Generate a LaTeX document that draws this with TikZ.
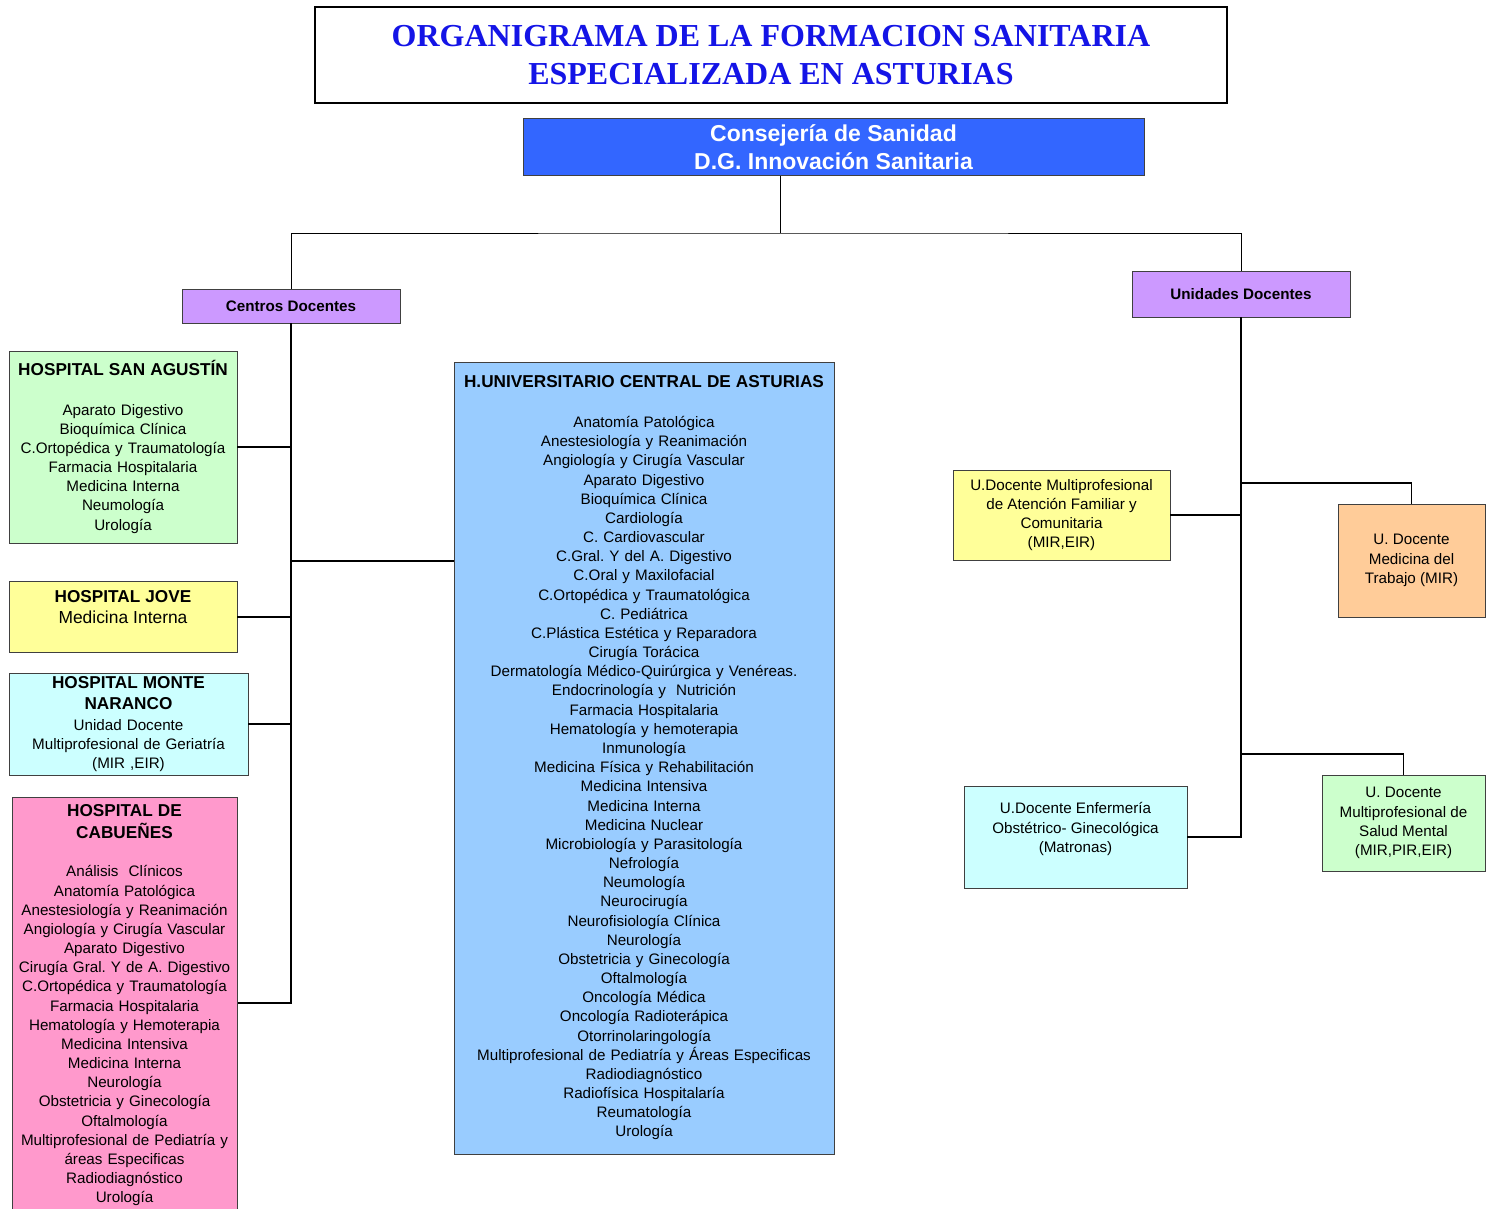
\documentclass[tikz,border=0pt]{standalone}
\usepackage{fontspec}
\setmainfont{Liberation Sans}
\newfontfamily\titlefont{Liberation Serif}
\frenchspacing
\definecolor{titleblue}{HTML}{1414E6}
\definecolor{consblue}{HTML}{3366FF}
\definecolor{violetbox}{HTML}{CC99FF}
\definecolor{greenbox}{HTML}{CCFFCC}
\definecolor{yellowbox}{HTML}{FFFF99}
\definecolor{cyanbox}{HTML}{CCFFFF}
\definecolor{pinkbox}{HTML}{FF99CC}
\definecolor{bluebox}{HTML}{99CCFF}
\definecolor{orangebox}{HTML}{FFCC99}
\newcommand\myBody{\fontsize{15.2}{19.17}\selectfont}
\newcommand\myHead{\bfseries\fontsize{17.2}{21.5}\selectfont}
\begin{document}
\frenchspacing
\begin{tikzpicture}[x=1pt,y=-1pt,
  box/.style={draw=black!75, line width=0.8pt, inner sep=0pt, align=center, font=\myBody},
  conn/.style={line width=1.3pt, black},
  thinconn/.style={line width=0.9pt, black}]
\useasboundingbox (0,0) rectangle (1492,1209);
\begin{scope}
\clip (0,0) rectangle (1492,1209);

% title
\node[draw=black, line width=2pt, minimum width=912, minimum height=96, inner sep=0pt, align=center,
      font=\titlefont\bfseries\fontsize{32}{38}\selectfont, text=titleblue] (title) at (771,55)
  {ORGANIGRAMA DE LA FORMACION SANITARIA\\ESPECIALIZADA EN ASTURIAS};

% consejeria
\node[box, fill=consblue, minimum width=621, minimum height=57, text=white,
      font=\bfseries\fontsize{23}{28}\selectfont] (cons) at (833.5,147)
  {Consejería de Sanidad\\D.G. Innovación Sanitaria};

% second level
\node[box, fill=violetbox, minimum width=218, minimum height=34, font=\bfseries\myBody] (centros) at (291,306) {Centros Docentes};
\node[box, fill=violetbox, minimum width=218, minimum height=46, font=\bfseries\myBody] (unidades) at (1241,294) {Unidades Docentes};

% hospitals
\node[box, fill=greenbox, minimum width=228, minimum height=192, text width=224] (sanag) at (123,447)
  {{\myHead HOSPITAL SAN AGUSTÍN\par}\vspace{20pt}
   Aparato Digestivo\\Bioquímica Clínica\\C.Ortopédica y Traumatología\\Farmacia Hospitalaria\\Medicina Interna\\Neumología\\Urología};

\node[box, fill=yellowbox, minimum width=228, minimum height=71, text width=224] (jove) at (123,616.5)
  {{\myHead HOSPITAL JOVE\par}
   {\fontsize{17.4}{21.5}\selectfont Medicina Interna\par}\mbox{}};

\node[box, fill=cyanbox, minimum width=239, minimum height=102, text width=235] (monte) at (128.5,724)
  {{\myHead HOSPITAL MONTE\\NARANCO\par}\vspace{1.5pt}
   Unidad Docente\\Multiprofesional de Geriatría\\(MIR ,EIR)\par\vspace{-5pt}};

\node[box, fill=pinkbox, minimum width=225, minimum height=440, anchor=north west] (cab) at (12,797) {};
\node[inner sep=0pt, align=center, text width=223, font=\myBody, anchor=north] (cabt) at (124.5,804.5)
  {{\myHead HOSPITAL DE\\CABUEÑES\par}\vspace{19.5pt}
   Análisis\ \ Clínicos\\Anatomía Patológica\\Anestesiología y Reanimación\\Angiología y Cirugía Vascular\\Aparato Digestivo\\Cirugía Gral. Y de A. Digestivo\\C.Ortopédica y Traumatología\\Farmacia Hospitalaria\\Hematología y Hemoterapia\\Medicina Intensiva\\Medicina Interna\\Neurología\\Obstetricia y Ginecología\\Oftalmología\\Multiprofesional de Pediatría y\\áreas Especificas\\Radiodiagnóstico\\Urología};

\node[box, fill=bluebox, minimum width=380, minimum height=792, text width=376] (huca) at (644,758)
  {{\myHead H.UNIVERSITARIO CENTRAL DE ASTURIAS\par}\vspace{20.5pt}
   Anatomía Patológica\\Anestesiología y Reanimación\\Angiología y Cirugía Vascular\\Aparato Digestivo\\Bioquímica Clínica\\Cardiología\\C. Cardiovascular\\C.Gral. Y del A. Digestivo\\C.Oral y Maxilofacial\\C.Ortopédica y Traumatológica\\C. Pediátrica\\C.Plástica Estética y Reparadora\\Cirugía Torácica\\Dermatología Médico-Quirúrgica y Venéreas.\\Endocrinología y\ \ Nutrición\\Farmacia Hospitalaria\\Hematología y hemoterapia\\Inmunología\\Medicina Física y Rehabilitación\\Medicina Intensiva\\Medicina Interna\\Medicina Nuclear\\Microbiología y Parasitología\\Nefrología\\Neumología\\Neurocirugía\\Neurofisiología Clínica\\Neurología\\Obstetricia y Ginecología\\Oftalmología\\Oncología Médica\\Oncología Radioterápica\\Otorrinolaringología\\Multiprofesional de Pediatría y Áreas Especificas\\Radiodiagnóstico\\Radiofísica Hospitalaría\\Reumatología\\Urología\par\vspace{-2pt}};

% unidades docentes
\node[box, fill=yellowbox, minimum width=217, minimum height=90] (afyc) at (1061.5,515)
  {U.Docente Multiprofesional\\de Atención Familiar y\\Comunitaria\\(MIR,EIR)};
\node[box, fill=orangebox, minimum width=147, minimum height=113] (mt) at (1411.5,560.5)
  {U. Docente\\Medicina del\\Trabajo (MIR)};
\node[box, fill=cyanbox, minimum width=223, minimum height=102] (enf) at (1075.5,837)
  {U.Docente Enfermería\\Obstétrico- Ginecológica\\(Matronas)\\\mbox{}};
\node[box, fill=greenbox, minimum width=163, minimum height=96] (sm) at (1403.5,823)
  {U. Docente\\Multiprofesional de\\Salud Mental\\(MIR,PIR,EIR)};

% connectors top
\coordinate (ctop) at (780,176);
\coordinate (cmid) at (780,233);
\draw[thinconn] (ctop) -- (cmid);
\draw[thinconn] (centros.north) |- (cmid) -| (unidades.north);

% left trunk
\coordinate (lbot) at (291,1003);
\draw[conn] (centros.south) -- (lbot) -- (lbot -| cab.east);
\coordinate (l447) at (291,447);
\coordinate (l561) at (291,561);
\coordinate (l617) at (291,617);
\coordinate (l724) at (291,724);
\draw[conn] (l447) -- (l447 -| sanag.east);
\draw[conn] (l617) -- (l617 -| jove.east);
\draw[conn] (l724) -- (l724 -| monte.east);
\draw[conn] (l561) -- (l561 -| huca.west);

% right trunk
\coordinate (rbot) at (1241,837);
\draw[conn] (unidades.south) -- (rbot) -- (rbot -| enf.east);
\coordinate (r515) at (1241,515);
\coordinate (r483) at (1241,483);
\coordinate (r754) at (1241,754);
\draw[conn] (r515) -- (r515 -| afyc.east);
\draw[conn] (r483) -| (mt.north);
\draw[conn] (r754) -| (sm.north);
\end{scope}
\end{tikzpicture}
\end{document}
